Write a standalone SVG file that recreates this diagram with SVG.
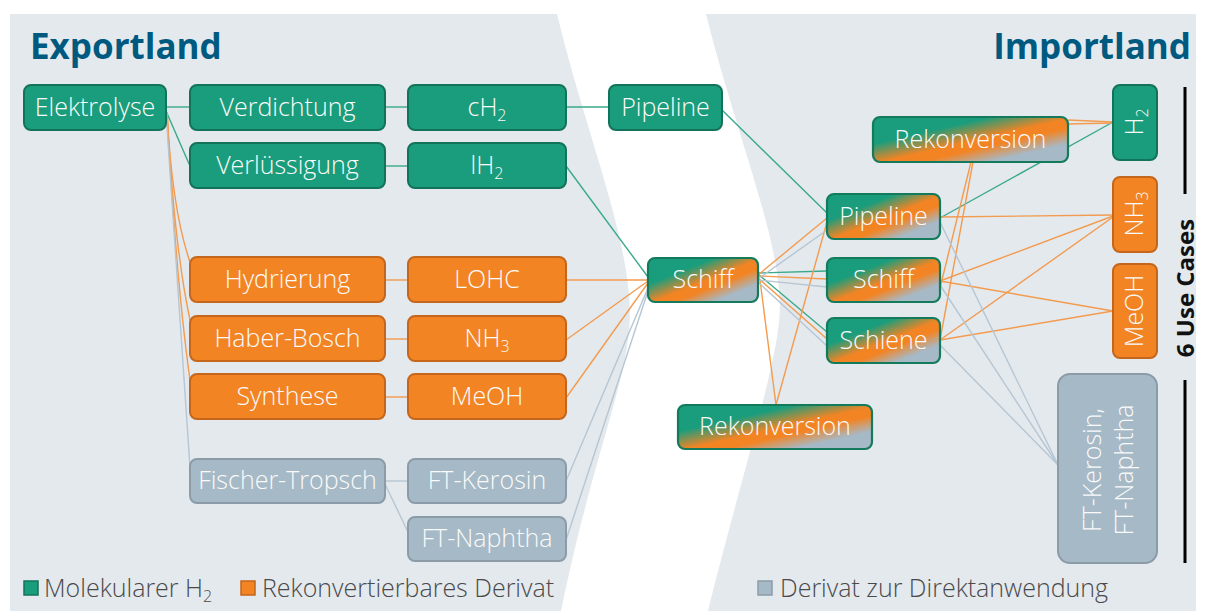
<svg xmlns="http://www.w3.org/2000/svg" width="1206" height="611" viewBox="0 0 1206 611">
<style>
  .panel{fill:#e4e9ee}
  .g{fill:#1a9d7c;stroke:#13735a;stroke-width:2}
  .o{fill:#f28424;stroke:#c4671c;stroke-width:2}
  .s{fill:#a6b9c6;stroke:#8b9ca8;stroke-width:2}
  .m{fill:url(#mix);stroke:#137a5c;stroke-width:2.2}
  .t{font-family:"Open Sans","Noto Sans","DejaVu Sans",sans-serif;font-weight:300;font-size:25px;fill:#fafafa;text-anchor:middle}
  .title{font-family:"Open Sans","Noto Sans",sans-serif;font-weight:700;font-size:35px;fill:#005a80}
  .leg{font-family:"Open Sans","Noto Sans",sans-serif;font-weight:300;font-size:25px;fill:#4a4a4a}
  .lg{stroke:#3aa98a;stroke-width:1.4;fill:none}
  .lo{stroke:#f39b4f;stroke-width:1.4;fill:none}
  .ls{stroke:#b6c6d2;stroke-width:1.4;fill:none}
</style>
<defs>
  <linearGradient id="mix" x1="0" y1="0" x2="1" y2="1">
    <stop offset="0" stop-color="#1a9d7c"/>
    <stop offset="0.3" stop-color="#1a9d7c"/>
    <stop offset="0.52" stop-color="#f28424"/>
    <stop offset="0.62" stop-color="#f28424"/>
    <stop offset="0.8" stop-color="#a6b9c6"/>
    <stop offset="1" stop-color="#a6b9c6"/>
  </linearGradient>
</defs>
<rect width="1206" height="611" fill="#ffffff"/>
<g id="background">
  <path class="panel" d="M10,14 H557 C590,150 640,260 628,340 C620,400 590,470 561,611 H10 Z"/>
  <path class="panel" d="M706,14 H1196 V611 H708 C730,520 772,380 778,330 C790,260 740,150 706,14 Z"/>
</g>
<text class="title" x="30" y="59">Exportland</text>
<text class="title" x="1191" y="59" text-anchor="end">Importland</text>

<g id="connectors">
  <!-- green -->
  <path class="lg" d="M166,107 H190"/>
  <path class="lg" d="M166,111 L190,166"/>
  <path class="lg" d="M385,107 H408"/>
  <path class="lg" d="M385,166 H408"/>
  <path class="lg" d="M566,107 H609"/>
  <path class="lg" d="M566,166 L648,277"/>
  <path class="lg" d="M722,110 L827,213"/>
  <path class="lg" d="M758,273 L827,271"/>
  <path class="lg" d="M758,274 L827,332"/>
  <path class="lg" d="M940,218 L1113,122"/>
  <!-- orange -->
  <path class="lo" d="M167,112 Q172,210 190,262"/>
  <path class="lo" d="M167,112 Q174,245 190,320"/>
  <path class="lo" d="M167,112 Q176,280 190,380"/>
  <path class="lo" d="M385,280 H408"/>
  <path class="lo" d="M385,339 H408"/>
  <path class="lo" d="M385,397 H408"/>
  <path class="lo" d="M566,280 L648,280"/>
  <path class="lo" d="M566,340 L648,281"/>
  <path class="lo" d="M566,398 L648,283"/>
  <path class="lo" d="M758,275 L827,218"/>
  <path class="lo" d="M758,276 L827,279"/>
  <path class="lo" d="M758,278 L827,339"/>
  <path class="lo" d="M760,280 L776,405"/>
  <path class="lo" d="M776,405 L827,222"/>
  <path class="lo" d="M971,162 L940,288"/>
  <path class="lo" d="M973,162 L940,340"/>
  <path class="lo" d="M1068,120 L1113,122"/>
  <path class="lo" d="M1068,124 L1113,123"/>
  <path class="lo" d="M940,217 L1113,215"/>
  <path class="lo" d="M940,281 L1113,216"/>
  <path class="lo" d="M940,340 L1113,217"/>
  <path class="lo" d="M940,281 L1113,311"/>
  <path class="lo" d="M940,340 L1113,311"/>
  <!-- grey -->
  <path class="ls" d="M166,113 Q178,300 190,467"/>
  <path class="ls" d="M385,481 H408"/>
  <path class="ls" d="M385,484 L408,532"/>
  <path class="ls" d="M566,481 L648,288"/>
  <path class="ls" d="M566,540 L648,291"/>
  <path class="ls" d="M758,279 L827,230"/>
  <path class="ls" d="M758,280 L827,287"/>
  <path class="ls" d="M758,282 L827,346"/>
  <path class="ls" d="M940,222 L1058,465"/>
  <path class="ls" d="M940,285 L1058,465"/>
  <path class="ls" d="M940,345 L1058,465"/>
</g>

<g id="n-elektrolyse"><rect class="g" x="24" y="85" width="142" height="45" rx="7"/><text class="t" x="95" y="116">Elektrolyse</text></g>
<g id="n-verdichtung"><rect class="g" x="190" y="85" width="195" height="45" rx="7"/><text class="t" x="287.5" y="116">Verdichtung</text></g>
<g id="n-ch2"><rect class="g" x="408" y="85" width="158" height="45" rx="7"/><text class="t" x="487" y="116">cH<tspan font-size="16" dy="5">2</tspan></text></g>
<g id="n-pipeline-l"><rect class="g" x="609" y="85" width="113" height="45" rx="7"/><text class="t" x="665.5" y="116">Pipeline</text></g>
<g id="n-verluessigung"><rect class="g" x="190" y="143" width="195" height="45" rx="7"/><text class="t" x="287.5" y="174">Verlüssigung</text></g>
<g id="n-lh2"><rect class="g" x="408" y="143" width="158" height="45" rx="7"/><text class="t" x="487" y="174">lH<tspan font-size="16" dy="5">2</tspan></text></g>

<g id="n-hydrierung"><rect class="o" x="190" y="257" width="195" height="45" rx="7"/><text class="t" x="287.5" y="288">Hydrierung</text></g>
<g id="n-lohc"><rect class="o" x="408" y="257" width="158" height="45" rx="7"/><text class="t" x="487" y="288">LOHC</text></g>
<g id="n-haber"><rect class="o" x="190" y="316" width="195" height="45" rx="7"/><text class="t" x="287.5" y="347">Haber-Bosch</text></g>
<g id="n-nh3"><rect class="o" x="408" y="316" width="158" height="45" rx="7"/><text class="t" x="487" y="347">NH<tspan font-size="16" dy="5">3</tspan></text></g>
<g id="n-synthese"><rect class="o" x="190" y="374" width="195" height="45" rx="7"/><text class="t" x="287.5" y="405">Synthese</text></g>
<g id="n-meoh"><rect class="o" x="408" y="374" width="158" height="45" rx="7"/><text class="t" x="487" y="405">MeOH</text></g>

<g id="n-ft"><rect class="s" x="190" y="459" width="195" height="44" rx="7"/><text class="t" x="287.5" y="489">Fischer-Tropsch</text></g>
<g id="n-ftk"><rect class="s" x="408" y="459" width="158" height="44" rx="7"/><text class="t" x="487" y="489">FT-Kerosin</text></g>
<g id="n-ftn"><rect class="s" x="408" y="517" width="158" height="44" rx="7"/><text class="t" x="487" y="547">FT-Naphtha</text></g>

<g id="n-schiff-m"><rect class="m" x="648" y="258" width="110" height="44" rx="7"/><text class="t" x="703" y="288">Schiff</text></g>
<g id="n-rekon-b"><rect class="m" x="678" y="405" width="194" height="44" rx="7"/><text class="t" x="775" y="435">Rekonversion</text></g>
<g id="n-rekon-t"><rect class="m" x="873" y="117" width="195" height="45" rx="7"/><text class="t" x="970.5" y="148">Rekonversion</text></g>
<g id="n-pipeline-r"><rect class="m" x="827" y="194" width="113" height="45" rx="7"/><text class="t" x="883.5" y="225">Pipeline</text></g>
<g id="n-schiff-r"><rect class="m" x="827" y="258" width="113" height="44" rx="7"/><text class="t" x="883.5" y="288">Schiff</text></g>
<g id="n-schiene"><rect class="m" x="827" y="318" width="113" height="45" rx="7"/><text class="t" x="883.5" y="349">Schiene</text></g>

<g id="n-h2"><rect class="g" x="1113" y="85" width="44" height="75" rx="7"/><text class="t" transform="translate(1143,122) rotate(-90)">H<tspan font-size="16" dy="5">2</tspan></text></g>
<g id="n-nh3-r"><rect class="o" x="1113" y="177" width="44" height="75" rx="7"/><text class="t" transform="translate(1143,214) rotate(-90)">NH<tspan font-size="16" dy="5">3</tspan></text></g>
<g id="n-meoh-r"><rect class="o" x="1113" y="264" width="44" height="94" rx="7"/><text class="t" transform="translate(1143,311) rotate(-90)">MeOH</text></g>
<g id="n-ft-r"><rect class="s" x="1058" y="374" width="99" height="189" rx="12"/>
  <text class="t" transform="translate(1101,470) rotate(-90)">FT-Kerosin,</text>
  <text class="t" transform="translate(1133,470) rotate(-90)">FT-Naphtha</text>
</g>

<g id="use-cases">
  <line x1="1185" y1="87" x2="1185" y2="194" stroke="#000" stroke-width="3"/>
  <line x1="1185" y1="380" x2="1185" y2="563" stroke="#000" stroke-width="3"/>
  <text transform="translate(1194,288) rotate(-90)" font-family="'Open Sans','Noto Sans',sans-serif" font-weight="700" font-size="24" text-anchor="middle" fill="#111">6 Use Cases</text>
</g>

<g id="legend">
  <rect x="24" y="581" width="14" height="14" fill="#1a9d7c" stroke="#13735a" stroke-width="1.5"/>
  <text class="leg" x="44" y="597">Molekularer H<tspan font-size="16" dy="5">2</tspan></text>
  <rect x="241" y="581" width="14" height="14" fill="#f28424" stroke="#c4671c" stroke-width="1.5"/>
  <text class="leg" x="262" y="597">Rekonvertierbares Derivat</text>
  <rect x="758" y="581" width="14" height="14" fill="#a6b9c6" stroke="#8b9ca8" stroke-width="1.5"/>
  <text class="leg" x="780" y="597">Derivat zur Direktanwendung</text>
</g>
</svg>
